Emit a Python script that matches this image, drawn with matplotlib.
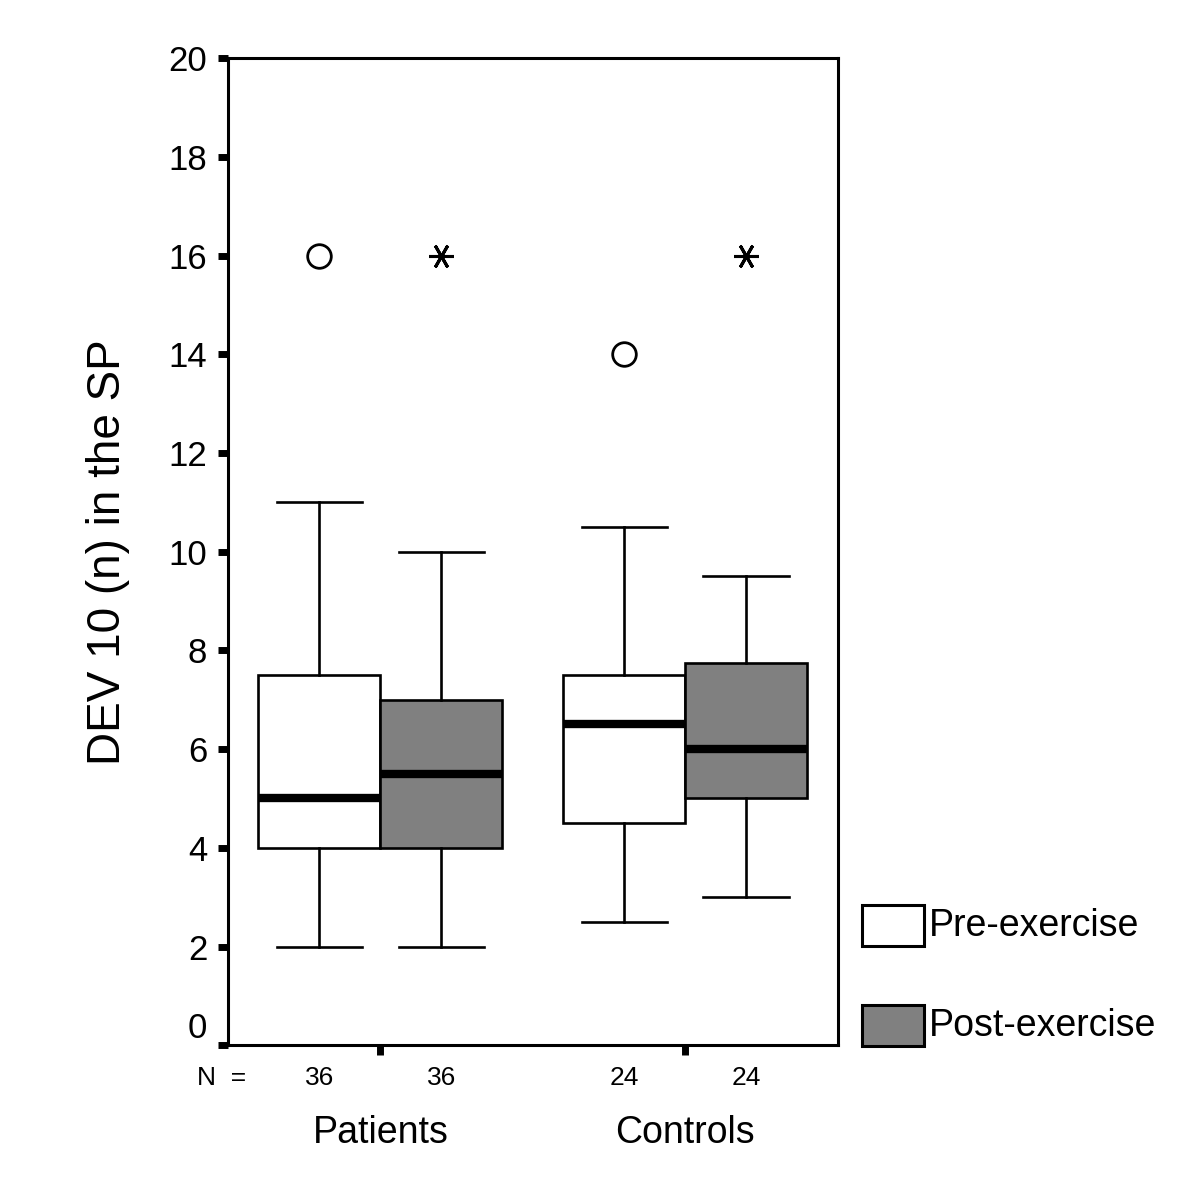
import matplotlib
matplotlib.use("Agg")
import matplotlib.pyplot as plt
import matplotlib.transforms as mtransforms
from matplotlib.patches import Rectangle

plt.rcParams['font.family'] = ['Liberation Sans', 'DejaVu Sans']

# data
groups = ['Patients', 'Controls']
series = ['Pre-exercise', 'Post-exercise']
counts = [36, 36, 24, 24]
whislo = [2, 2, 2.5, 3]
q1 = [4, 4, 4.5, 5]
med = [5, 5.5, 6.5, 6]
q3 = [7.5, 7, 7.5, 7.75]
whishi = [11, 10, 10.5, 9.5]
outliers = [16, 16, 14, 16]
outlier_kind = ['o', 'star', 'o', 'star']
fills = ['white', '#808080', 'white', '#808080']

group_pos = [1, 2]
offset = 0.2
positions = [g + s for g in group_pos for s in (-offset, offset)]

stats = []
for i in range(4):
    stats.append(dict(med=med[i], q1=q1[i], q3=q3[i],
                      whislo=whislo[i], whishi=whishi[i], fliers=[]))

fig = plt.figure(figsize=(12, 12), dpi=100)
ax = fig.add_axes([0.19, 0.129, 0.508, 0.8225])

bp = ax.bxp(stats, positions=positions, widths=0.4, capwidths=0.28,
            patch_artist=True, showfliers=False,
            boxprops=dict(linewidth=1.9, edgecolor='black'),
            whiskerprops=dict(linewidth=1.9, color='black'),
            capprops=dict(linewidth=1.9, color='black'),
            medianprops=dict(linewidth=6, color='black', solid_capstyle='butt'))
for patch, c in zip(bp['boxes'], fills):
    patch.set_facecolor(c)

# outliers / extremes
for x, y, kind in zip(positions, outliers, outlier_kind):
    if kind == 'o':
        ax.plot(x, y, marker='o', markersize=17, markerfacecolor='white',
                markeredgecolor='black', markeredgewidth=2, linestyle='none')
    else:
        ax.plot(x, y, marker=(6, 2, 90), markersize=18, markeredgecolor='black',
                markeredgewidth=2.2, linestyle='none')

ax.set_xlim(0.5, 2.5)
ax.set_ylim(0, 20)
ax.set_yticks(range(0, 21, 2))
ax.tick_params(axis='y', direction='out', length=7, width=5, labelsize=25, pad=8)
ax.set_xticks(group_pos)
ax.set_xticklabels(['', ''])
ax.tick_params(axis='x', direction='out', length=7, width=5)
for sp in ax.spines.values():
    sp.set_linewidth(2.2)

# the "0" label sits a little above the axis in the original
fig.canvas.draw()
zero_lab = ax.get_yticklabels()[0]
zero_lab.set_transform(zero_lab.get_transform() +
                       mtransforms.ScaledTranslation(0, 20 / 100, fig.dpi_scale_trans))

ax.set_ylabel('DEV 10 (n) in the SP', fontsize=33)
ax.yaxis.set_label_coords(-0.161, 0.5)

# N counts and group names below the axis
ax.text(-0.01, -0.033, 'N  =', transform=ax.transAxes, fontsize=19, ha='center', va='center')
trans = ax.get_xaxis_transform()
for x, n in zip(positions, counts):
    ax.text(x, -0.033, str(n), transform=trans, fontsize=19, ha='center', va='center')
for x, g in zip(group_pos, groups):
    ax.text(x, -0.089, g, transform=trans, fontsize=27, ha='center', va='center')

# legend on the right
leg_y = [1 - 946 / 1200, 1 - 1046 / 1200]
for y, c, lab in zip(leg_y, ['white', '#808080'], series):
    fig.patches.append(Rectangle((862 / 1200, y), 62 / 1200, 41 / 1200,
                                 transform=fig.transFigure, facecolor=c,
                                 edgecolor='black', linewidth=2.2))
    fig.text(929 / 1200, y + 20 / 1200, lab, fontsize=27, ha='left', va='center')

fig.savefig('out.png', dpi=100)
